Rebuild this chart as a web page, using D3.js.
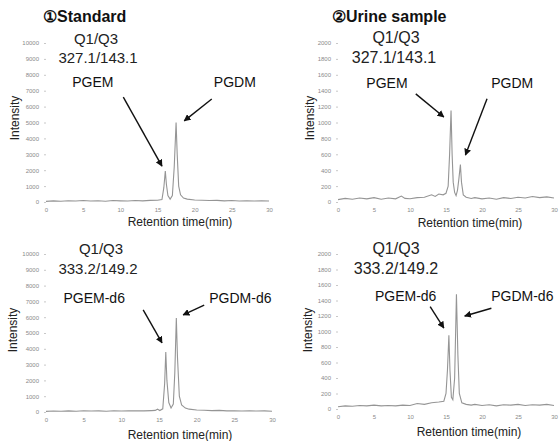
<!DOCTYPE html>
<html lang="en">
<head>
    <meta charset="UTF-8">
    <title>PGEM / PGDM chromatograms</title>
    <script src="https://d3js.org/d3.v7.min.js"></script>
    <style>
        body { margin: 0; background: #fff; font-family: "Liberation Sans", Arial, sans-serif; }
        .trace { fill: none; stroke: #959595; stroke-width: 1.1; }
        .tick text { font-size: 6px; fill: #8a8a8a; font-family: "Liberation Sans", Arial, sans-serif; }
        .tick line { stroke: #c8c8c8; }
        .arrow { stroke: #111; stroke-width: 1.4; }
    </style>
</head>
<body>
    <div id="chart"></div>
    <script>
        // retention time (min) vs intensity
        const standardMain = [
            [0,40],[1,70],[2,50],[3,80],[4,60],[5,90],[6,60],[7,80],[8,50],[9,90],[10,70],[11,60],
            [12,90],[13,70],[14,100],[15,110],[15.6,150],[15.85,900],[16.05,1950],[16.2,1100],
            [16.4,400],[16.7,180],[17.0,400],[17.25,2200],[17.5,5000],[17.65,3000],[17.85,1000],
            [18.1,450],[18.5,250],[19,180],[20,130],[21,110],[22,90],[23,100],[24,70],[25,90],
            [26,60],[27,80],[28,60],[29,70],[30,60]
        ];
        const urineMain = [
            [0,30],[1,45],[2,35],[3,50],[4,40],[5,55],[6,35],[7,50],[8,40],[8.8,75],[9.3,45],
            [10,40],[11,55],[12,60],[13,90],[13.5,70],[14,100],[14.6,90],[15,110],[15.3,200],
            [15.5,600],[15.7,1150],[15.85,600],[16.0,250],[16.2,120],[16.4,80],[16.6,150],
            [16.8,300],[17.0,470],[17.15,250],[17.4,90],[17.8,60],[18.5,45],[19,55],[20,40],
            [21,50],[22,35],[23,55],[24,45],[25,60],[26,50],[27,70],[28,55],[29,65],[30,50]
        ];
        const standardD6 = [
            [0,40],[1,60],[2,50],[3,70],[4,50],[5,80],[6,60],[7,70],[8,50],[9,80],[10,60],[11,70],
            [12,80],[13,70],[14,90],[14.5,100],[14.8,180],[15.1,90],[15.5,200],[15.75,1800],
            [15.9,3800],[16.05,2000],[16.3,600],[16.6,250],[16.9,500],[17.1,2500],[17.3,5950],
            [17.45,3500],[17.7,1000],[18,450],[18.5,250],[19,180],[20,130],[21,110],[22,90],
            [23,100],[24,70],[25,80],[26,60],[27,70],[28,60],[29,70],[30,50]
        ];
        const urineD6 = [
            [0,30],[1,40],[2,35],[3,45],[4,40],[5,50],[6,40],[7,45],[8,40],[9,50],[10,45],[11,70],
            [12,60],[13,80],[14,90],[14.7,100],[15.0,200],[15.2,500],[15.4,950],[15.55,500],
            [15.75,150],[15.95,120],[16.2,400],[16.45,1480],[16.65,700],[16.85,200],[17.2,80],
            [17.8,60],[18.5,50],[19,60],[20,45],[21,55],[22,40],[23,55],[24,50],[25,60],
            [26,45],[27,55],[28,50],[29,60],[30,45]
        ];

        const timeTicks = [0, 5, 10, 15, 20, 25, 30];
        const ticksHigh = [0, 1000, 2000, 3000, 4000, 5000, 6000, 7000, 8000, 9000, 10000];
        const ticksLow = [0, 200, 400, 600, 800, 1000, 1200, 1400, 1600, 1800, 2000];

        const columnTitles = ["\u2460Standard", "\u2461Urine sample"];
        const transitions = ["327.1/143.1", "333.2/149.2"];

        // peak labels and arrows, in (time, intensity)
        const labelsStandardMain = [
            { text: "PGEM", at: [6.3, 7550], from: [10.4, 6600], to: [15.6, 2260] },
            { text: "PGDM", at: [25.4, 7550], from: [22.3, 6480], to: [18.6, 5100] }
        ];
        const labelsUrineMain = [
            { text: "PGEM", at: [6.8, 1500], from: [10.8, 1360], to: [14.7, 1070] },
            { text: "PGDM", at: [24.2, 1500], from: [20.7, 1300], to: [17.7, 590] }
        ];
        const labelsStandardD6 = [
            { text: "PGEM-d6", at: [6.4, 7220], from: [12.9, 6460], to: [15.4, 4370] },
            { text: "PGDM-d6", at: [25.8, 7220], from: [21.0, 6770], to: [18.2, 6140] }
        ];
        const labelsUrineD6 = [
            { text: "PGEM-d6", at: [9.4, 1460], from: [12.8, 1320], to: [14.7, 1045] },
            { text: "PGDM-d6", at: [25.6, 1460], from: [21.3, 1300], to: [17.6, 1200] }
        ];

        const width = 560, height = 441;
        const svg = d3.select("#chart").append("svg")
            .attr("width", width)
            .attr("height", height);

        svg.append("defs").append("marker")
            .attr("id", "head")
            .attr("viewBox", "0 0 10 10")
            .attr("refX", 9).attr("refY", 5)
            .attr("markerWidth", 5).attr("markerHeight", 5)
            .attr("orient", "auto")
            .append("path")
            .attr("d", "M0,0L10,5L0,10Z")
            .attr("fill", "#111");

        // column titles
        svg.append("text").attr("x", 43).attr("y", 22)
            .style("font-size", "16px").style("font-weight", "bold").attr("fill", "#111")
            .text(columnTitles[0]);
        svg.append("text").attr("x", 332).attr("y", 22)
            .style("font-size", "16px").style("font-weight", "bold").attr("fill", "#111")
            .text(columnTitles[1]);

        const panels = [
            { data: standardMain, labels: labelsStandardMain, yTicks: ticksHigh, trans: transitions[0],
              x: [46, 269], y: [202, 43], hdr: [96, 38, 98, 57], fs: 15, xlab: [180, 222], ylab: [15, 118] },
            { data: urineMain, labels: labelsUrineMain, yTicks: ticksLow, trans: transitions[0],
              x: [338, 554], y: [202, 43], hdr: [396, 37, 394, 57], fs: 16, xlab: [470, 223], ylab: [310, 118] },
            { data: standardD6, labels: labelsStandardD6, yTicks: ticksHigh, trans: transitions[1],
              x: [46, 272], y: [412, 254], hdr: [101, 248, 98, 268], fs: 15, xlab: [180, 435], ylab: [13, 330] },
            { data: urineD6, labels: labelsUrineD6, yTicks: ticksLow, trans: transitions[1],
              x: [338, 554], y: [409, 254], hdr: [396, 248, 396, 268], fs: 16, xlab: [469, 432], ylab: [308, 330] }
        ];

        panels.forEach(p => {
            const xScale = d3.scaleLinear().domain([0, 30]).range(p.x);
            const yScale = d3.scaleLinear().domain([0, d3.max(p.yTicks)]).range(p.y);
            const g = svg.append("g");

            g.append("g")
                .attr("transform", `translate(${p.x[0]},0)`)
                .call(d3.axisLeft(yScale).tickValues(p.yTicks).tickSize(2).tickPadding(5).tickFormat(d3.format("d")))
                .call(a => a.select(".domain").remove());

            g.append("g")
                .attr("transform", `translate(0,${p.y[0]})`)
                .call(d3.axisBottom(xScale).tickValues(timeTicks).tickSize(0).tickPadding(6))
                .call(a => a.select(".domain").remove());

            const line = d3.line()
                .x(d => xScale(d[0]))
                .y(d => yScale(d[1]));

            g.append("path")
                .datum(p.data)
                .attr("class", "trace")
                .attr("d", line);

            // Q1/Q3 header
            g.append("text").attr("x", p.hdr[0]).attr("y", p.hdr[1])
                .attr("text-anchor", "middle").attr("dominant-baseline", "central")
                .style("font-size", p.fs + "px").attr("fill", "#222").text("Q1/Q3");
            g.append("text").attr("x", p.hdr[2]).attr("y", p.hdr[3])
                .attr("text-anchor", "middle").attr("dominant-baseline", "central")
                .style("font-size", p.fs + "px").attr("fill", "#222").text(p.trans);

            // peak annotations
            p.labels.forEach(l => {
                g.append("text")
                    .attr("x", xScale(l.at[0])).attr("y", yScale(l.at[1]))
                    .attr("text-anchor", "middle").attr("dominant-baseline", "central")
                    .style("font-size", "14px").attr("fill", "#111")
                    .text(l.text);
                g.append("line")
                    .attr("class", "arrow")
                    .attr("x1", xScale(l.from[0])).attr("y1", yScale(l.from[1]))
                    .attr("x2", xScale(l.to[0])).attr("y2", yScale(l.to[1]))
                    .attr("marker-end", "url(#head)");
            });

            g.append("text")
                .attr("x", p.xlab[0]).attr("y", p.xlab[1])
                .attr("text-anchor", "middle").attr("dominant-baseline", "central")
                .style("font-size", "12px").attr("fill", "#222")
                .text("Retention time(min)");

            g.append("text")
                .attr("transform", `translate(${p.ylab[0]},${p.ylab[1]}) rotate(-90)`)
                .attr("text-anchor", "middle").attr("dominant-baseline", "central")
                .style("font-size", "12px").attr("fill", "#222")
                .text("Intensity");
        });
    </script>
</body>
</html>
